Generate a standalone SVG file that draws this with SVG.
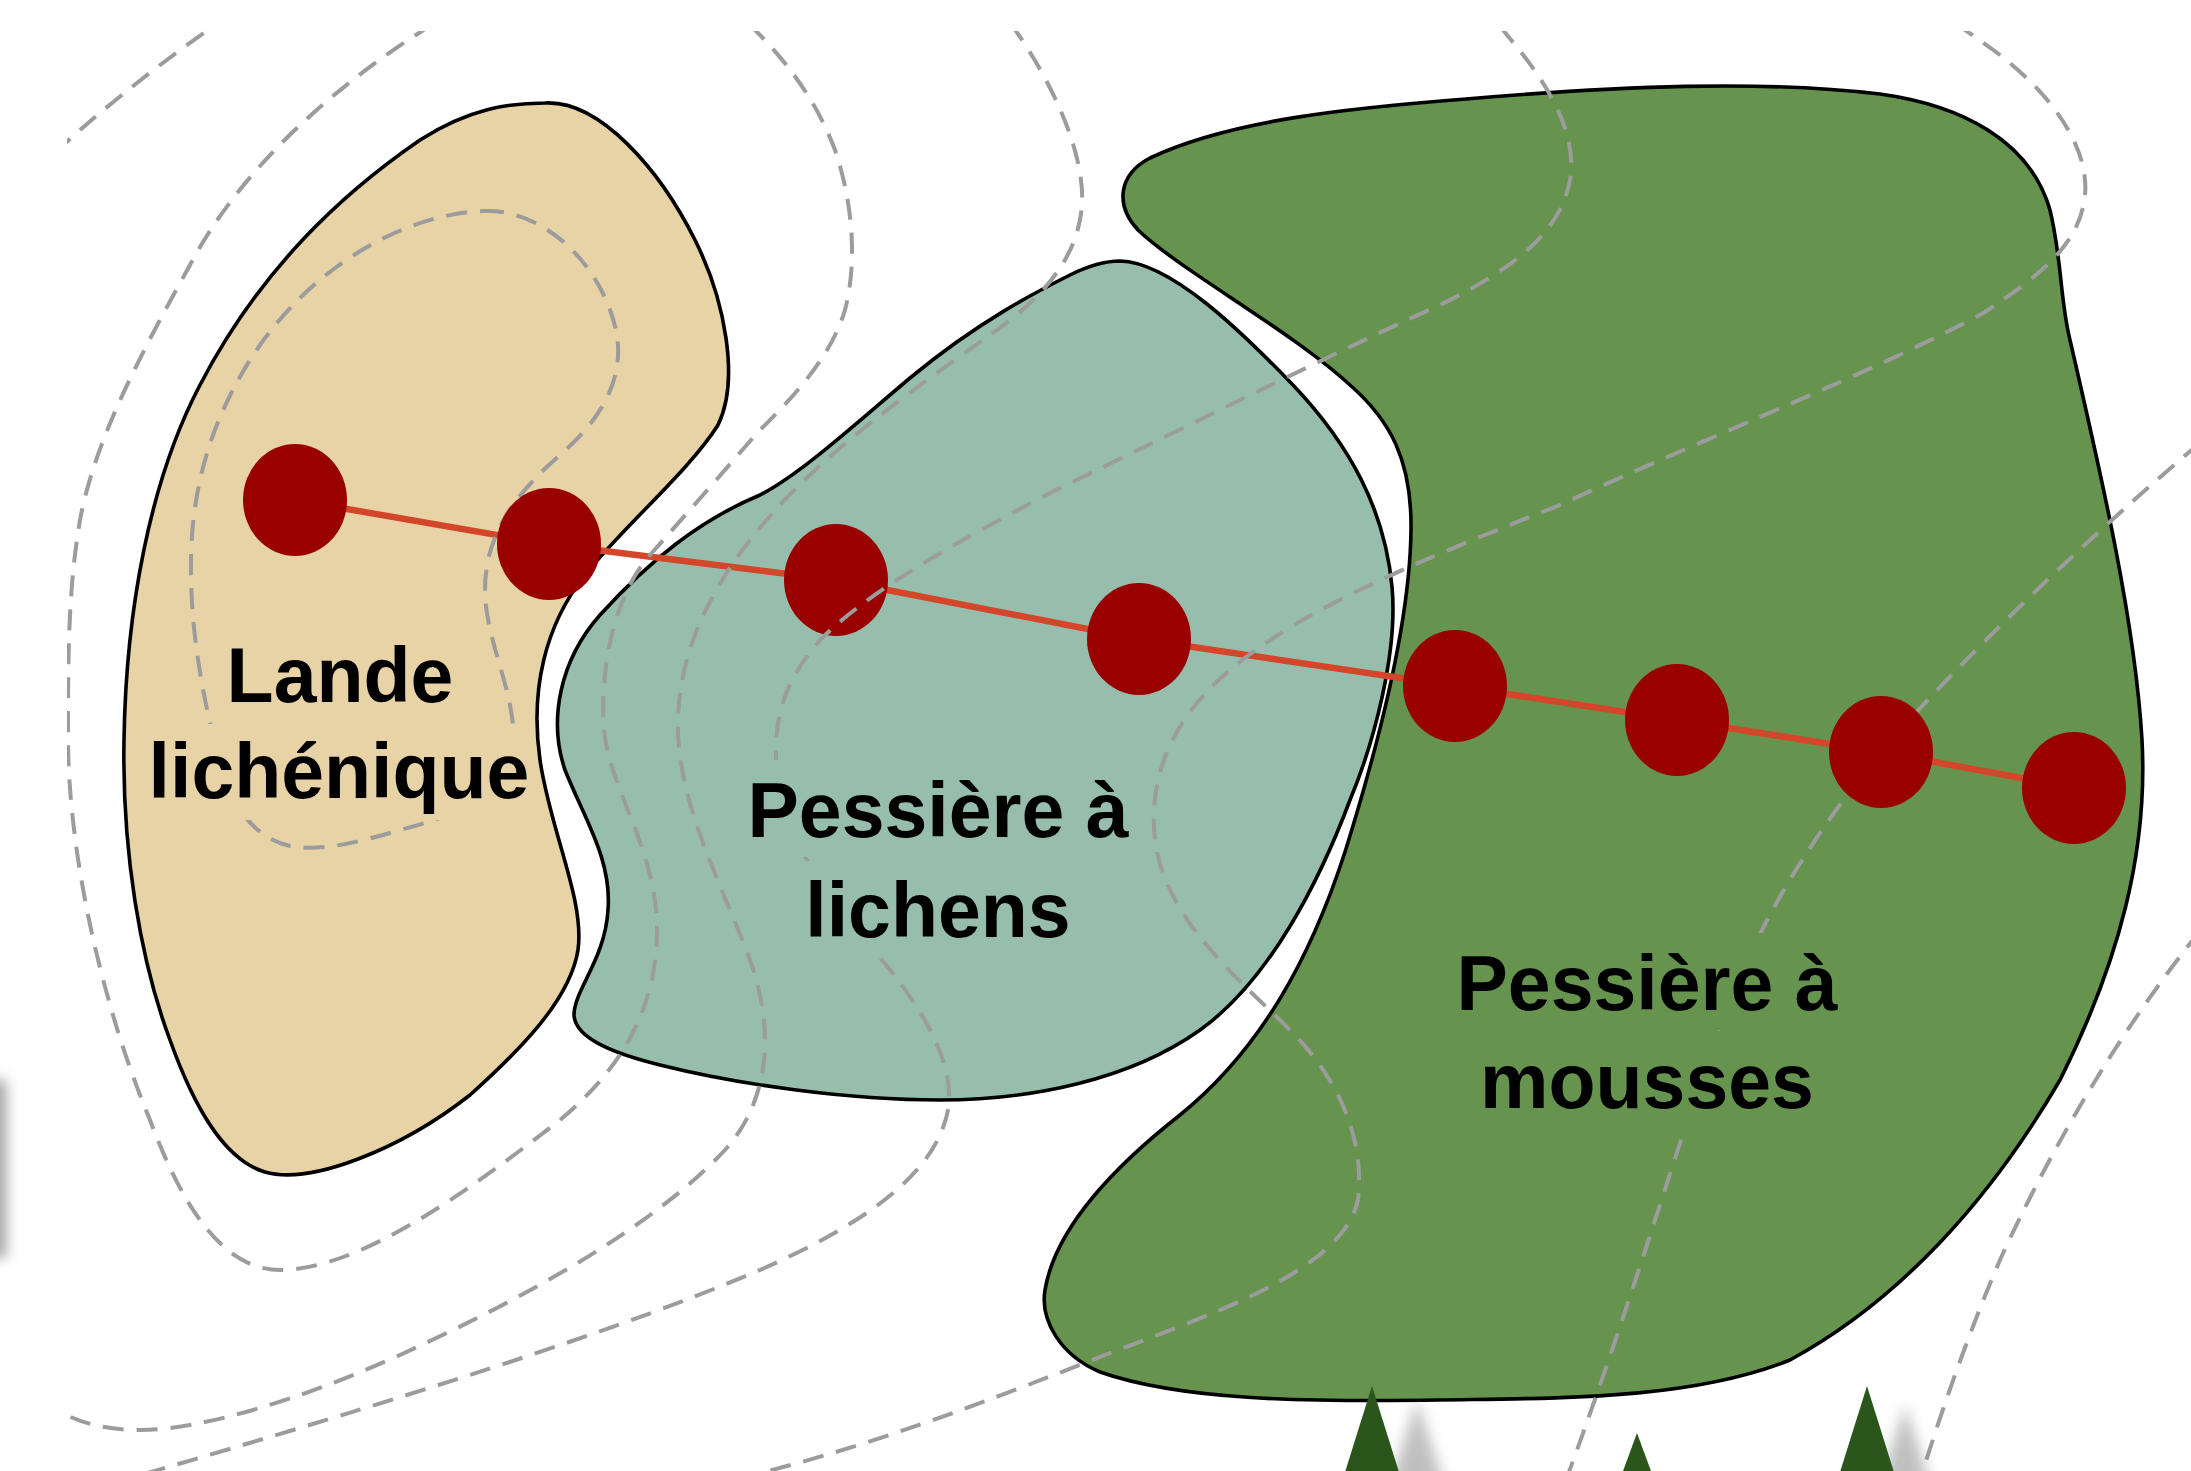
<svg xmlns="http://www.w3.org/2000/svg" width="2191" height="1471" viewBox="0 0 2191 1471">
  <defs>
    <style>
      .zone { stroke: #000; stroke-width: 3.6; stroke-linejoin: round; }
      .contour { fill: none; stroke: #9c9c9c; stroke-width: 4; stroke-dasharray: 21 13; }
      .plot { fill: #990000; }
      .transect { fill: none; stroke: #d3462a; stroke-width: 6.5; stroke-linejoin: round; }
      .label { font-family: "Liberation Sans", Arial, Helvetica, sans-serif; font-weight: bold; font-size: 77px; fill: #000; text-anchor: middle; }
      .tree { fill: #2b561b; }
      .shadow { fill: #8c8c8c; opacity: 0.55; filter: url(#soft); }
    </style>
    <clipPath id="frame">
      <rect x="67" y="31" width="2124" height="1440"/>
    </clipPath>
    <filter id="soft" x="-100%" y="-50%" width="300%" height="200%">
      <feGaussianBlur stdDeviation="7"/>
    </filter>
  </defs>

  <rect width="2191" height="1471" fill="#fff"/>

  <!-- vegetation zones -->
  <g id="zones">
    <path id="zone-lande" class="zone" fill="#e8d3a6"
      d="M 545,103 C 600,100 660,170 695,240 C 725,300 740,380 718,425 C 690,470 620,530 585,575 C 545,625 530,690 540,760 C 550,830 585,900 578,950 C 570,1000 520,1050 470,1095 C 400,1150 310,1185 265,1172 C 225,1160 195,1110 170,1040 C 140,960 122,850 124,740 C 126,610 150,480 200,385 C 260,270 340,195 420,140 C 470,108 510,103 545,103 Z"/>
    <path id="zone-lichens" class="zone" fill="#97bead"
      d="M 1120,261 C 1170,262 1240,330 1293,385 C 1350,445 1385,510 1392,587 C 1398,650 1375,740 1350,800 C 1320,880 1270,980 1200,1030 C 1130,1080 1030,1100 940,1100 C 850,1100 740,1085 660,1065 C 620,1055 575,1040 574,1015 C 574,990 605,960 608,910 C 612,860 585,820 565,770 C 548,720 560,660 600,615 C 650,560 700,520 760,495 C 800,475 860,420 910,378 C 980,320 1040,290 1070,275 C 1090,265 1105,261 1120,261 Z"/>
    <path id="zone-mousses" class="zone" fill="#66944f"
      d="M 1466,99 C 1620,86 1760,80 1880,94 C 1960,105 2030,140 2050,210 C 2062,260 2060,300 2070,340 C 2100,470 2135,620 2142,740 C 2148,850 2120,960 2060,1080 C 1990,1200 1900,1300 1790,1360 C 1690,1400 1560,1398 1440,1400 C 1300,1402 1180,1400 1100,1372 C 1060,1355 1040,1320 1045,1290 C 1055,1230 1110,1170 1180,1115 C 1260,1050 1310,960 1345,852 C 1380,740 1410,620 1411,530 C 1412,460 1390,420 1350,385 C 1290,330 1180,270 1138,230 C 1115,205 1118,175 1150,158 C 1230,120 1350,108 1466,99 Z"/>
  </g>

  <!-- transect line joining the sampling plots -->
  <g id="transect-line">
    <polyline class="transect" points="295,500 549,544 836,580 1139,639 1455,686 1677,720 1881,752 2075,788"/>
  </g>

  <!-- elevation contours -->
  <g id="contours" clip-path="url(#frame)">
    <path id="contour-corner" class="contour" d="M 55,153 C 80,128 150,70 215,25"/>
    <path id="contour-summit" class="contour"
      d="M 483,211 C 540,208 600,260 616,330 C 626,380 600,420 560,455 C 520,490 485,530 485,590 C 485,640 515,690 514,745 C 512,790 460,815 400,830 C 360,842 320,852 290,846 C 260,840 230,810 218,760 C 205,700 190,640 191,560 C 192,480 215,410 260,345 C 320,260 410,214 483,211 Z"/>
    <path id="contour-u1" class="contour"
      d="M 432,24 L 422,31 C 330,90 240,170 190,265 C 140,355 95,440 80,520 C 68,590 68,660 68,736 C 68,850 100,1000 150,1120 C 180,1200 220,1270 280,1270 C 360,1270 470,1190 560,1120 C 620,1070 657,1010 657,930 C 657,850 610,790 604,730 C 600,680 610,600 650,555 C 690,510 725,470 758,432 C 790,400 830,360 845,310 C 858,260 852,200 835,150 C 820,110 795,70 756,31 L 748,23"/>
    <path id="contour-u2" class="contour"
      d="M 1011,23 L 1016,31 C 1050,80 1085,150 1082,205 C 1078,260 1040,300 990,335 C 920,385 840,440 780,505 C 720,570 680,640 678,720 C 676,800 720,880 750,960 C 775,1030 770,1100 725,1150 C 650,1230 520,1300 400,1355 C 300,1400 200,1430 140,1430 C 110,1430 85,1425 60,1412"/>
    <path id="contour-r" class="contour"
      d="M 1955,24 C 1962,28 1970,33 1976,38 C 2040,80 2090,140 2085,195 C 2080,245 2040,275 1985,312 C 1880,370 1700,440 1560,505 C 1420,560 1300,610 1230,670 C 1170,720 1148,780 1155,840 C 1165,920 1240,980 1290,1030 C 1340,1080 1365,1140 1358,1200 C 1345,1260 1250,1300 1150,1338 C 1050,1375 900,1440 740,1478"/>
    <path id="contour-s" class="contour"
      d="M 2200,443 C 2120,510 2000,620 1900,730 C 1830,810 1770,900 1730,1000 C 1690,1100 1640,1280 1566,1480"/>
    <path id="contour-t" class="contour"
      d="M 2200,931 C 2120,1030 2050,1150 2000,1260 C 1970,1330 1945,1400 1920,1480"/>
  </g>

  <!-- sampling plots -->
  <g id="plots">
    <ellipse class="plot" cx="295" cy="500" rx="52" ry="56"/>
    <ellipse class="plot" cx="549" cy="544" rx="52" ry="56"/>
    <ellipse class="plot" cx="836" cy="580" rx="52" ry="56"/>
    <ellipse class="plot" cx="1139" cy="639" rx="52" ry="56"/>
    <ellipse class="plot" cx="1455" cy="686" rx="52" ry="56"/>
    <ellipse class="plot" cx="1677" cy="720" rx="52" ry="56"/>
    <ellipse class="plot" cx="1881" cy="752" rx="52" ry="56"/>
    <ellipse class="plot" cx="2074" cy="788" rx="52" ry="56"/>
  </g>

  <!-- contour drawn above the plots -->
  <g id="contours-top" clip-path="url(#frame)">
    <path id="contour-q" class="contour"
      d="M 1500,26 L 1507,35 C 1545,80 1578,130 1570,180 C 1560,235 1510,270 1440,305 C 1340,350 1200,420 1050,493 C 960,540 870,590 820,640 C 785,680 770,720 778,780 C 790,860 850,920 890,970 C 930,1020 955,1070 948,1110 C 935,1180 850,1230 760,1270 C 620,1330 400,1400 120,1481"/>
  </g>

  <!-- zone labels, each line on a patch of its zone colour -->
  <g id="labels">
    <g id="label-lande">
      <rect x="226" y="628" width="232" height="92" fill="#e8d3a6"/>
      <rect x="145" y="724" width="390" height="96" fill="#e8d3a6"/>
      <text class="label" x="340" y="702">Lande</text>
      <text class="label" x="339" y="798">lichénique</text>
    </g>
    <g id="label-lichens">
      <rect x="746" y="760" width="386" height="97" fill="#97bead"/>
      <rect x="803" y="861" width="270" height="96" fill="#97bead"/>
      <text class="label" x="938" y="837">Pessière à</text>
      <text class="label" x="938" y="937">lichens</text>
    </g>
    <g id="label-mousses">
      <rect x="1455" y="933" width="384" height="97" fill="#66944f"/>
      <rect x="1476" y="1031" width="342" height="97" fill="#66944f"/>
      <text class="label" x="1647" y="1010">Pessière à</text>
      <text class="label" x="1647" y="1108">mousses</text>
    </g>
  </g>

  <!-- spruce trees along the lower edge -->
  <g id="trees">
    <polygon class="shadow" points="1417,1400 1375,1530 1459,1530"/>
    <polygon class="shadow" points="1905,1405 1865,1530 1945,1530"/>
    <polygon class="tree" points="1372,1386 1330,1520 1414,1520"/>
    <polygon class="tree" points="1637,1433 1605,1520 1669,1520"/>
    <polygon class="tree" points="1867,1386 1825,1520 1909,1520"/>
  </g>

  <!-- soft grey mark on the left edge -->
  <rect x="-14" y="1080" width="20" height="178" fill="#8a8a8a" opacity="0.8" filter="url(#soft)"/>
</svg>
